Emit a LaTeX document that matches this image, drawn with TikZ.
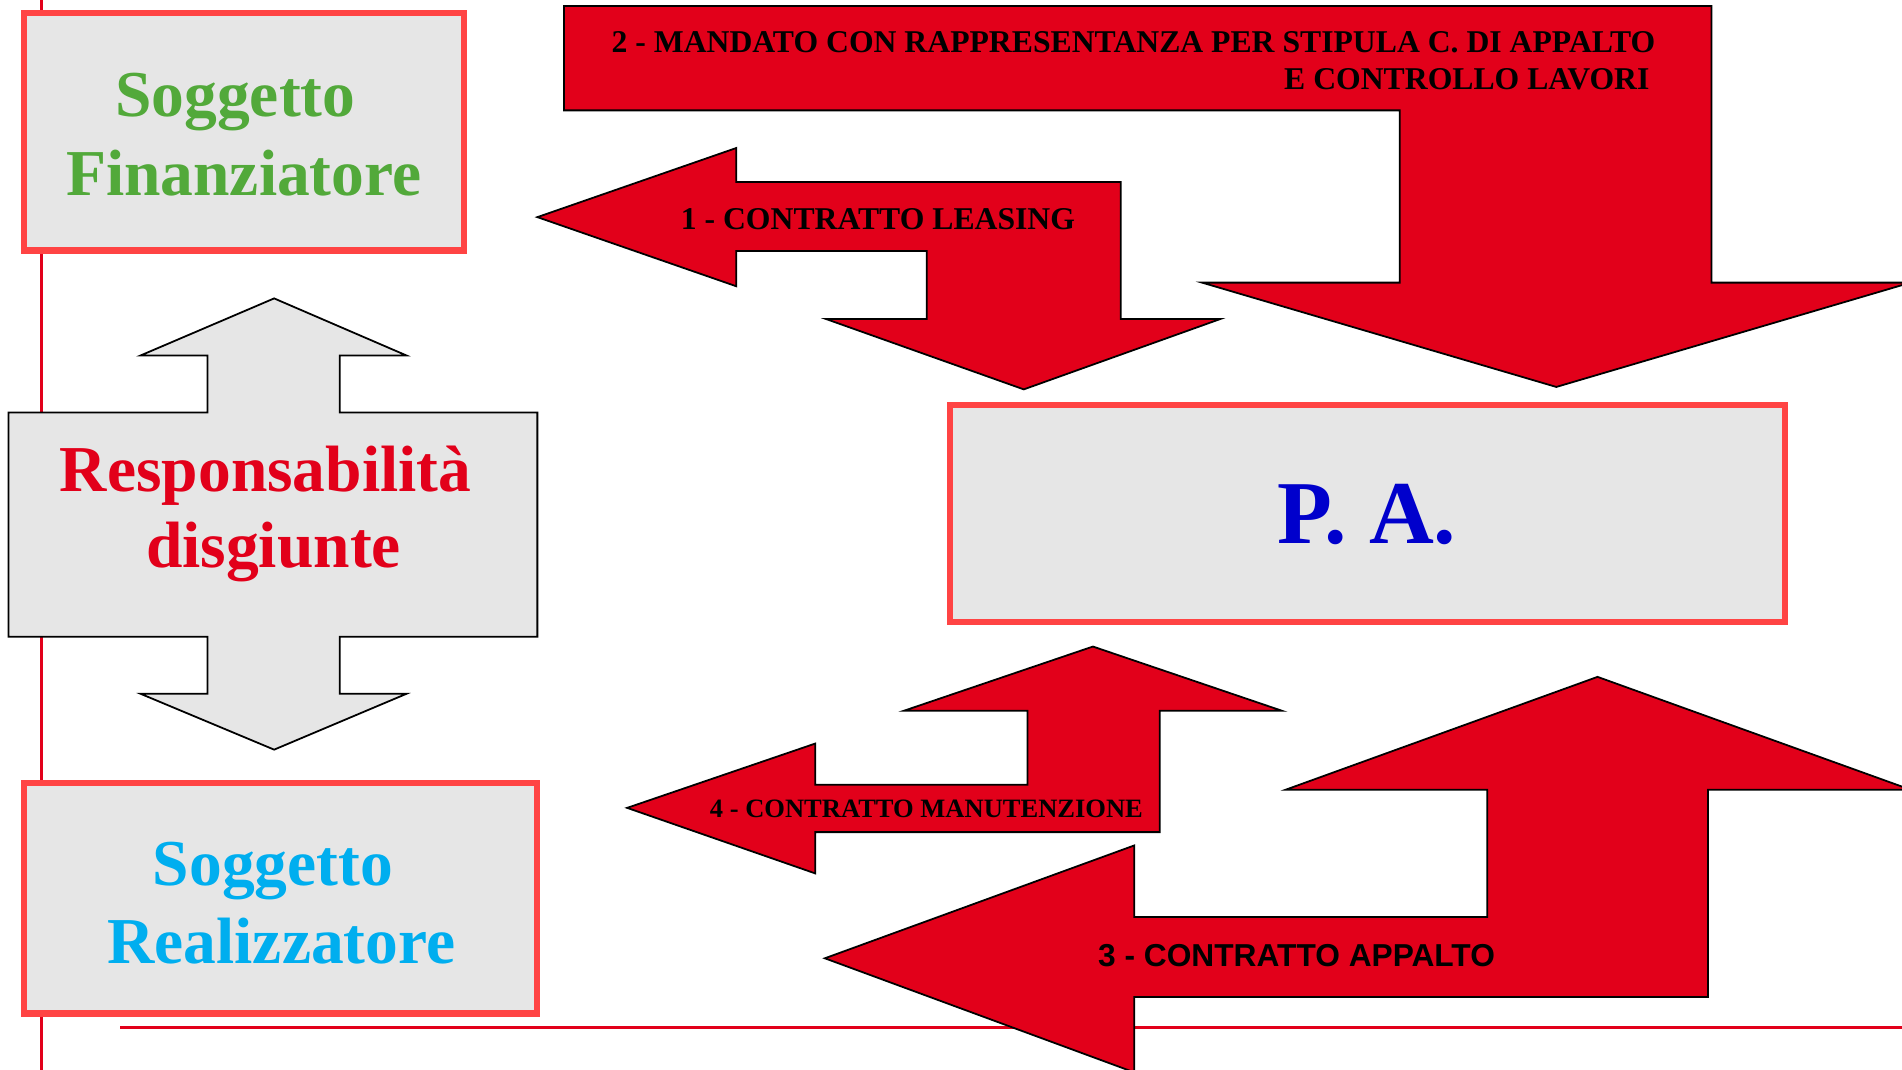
\documentclass[tikz,border=0pt]{standalone}
\usepackage{fontspec}
\setmainfont{Liberation Serif}
\newfontfamily\sansbold{Liberation Sans}
\definecolor{arrowred}{RGB}{226,0,26}
\definecolor{boxborder}{RGB}{255,68,68}
\definecolor{boxfill}{RGB}{230,230,230}
\definecolor{fingreen}{RGB}{82,169,58}
\definecolor{realcyan}{RGB}{0,174,239}
\definecolor{pablue}{RGB}{0,0,204}
\begin{document}
\begin{tikzpicture}[x=0.75pt,y=-0.75pt,
  redarrow/.style={fill=arrowred,draw=black,line width=1.1pt,line join=miter},
  grayarrow/.style={fill=boxfill,draw=black,line width=1.1pt,line join=miter},
  boxrect/.style={fill=boxfill,draw=boxborder,line width=3.75pt},
  guide/.style={draw=arrowred,line width=1.6pt},
  bigtext/.style={inner sep=0pt,font=\bfseries\fontsize{40.5}{48}\selectfont},
  arrowtext/.style={inner sep=0pt,font=\bfseries\fontsize{19.6}{23}\selectfont},
]
\useasboundingbox (0,0) rectangle (1568,882);
\clip (0,0) rectangle (1568,882);

% guide lines
\draw[guide] (34,0) -- (34,882);
\draw[guide] (99,847) -- (1568,847);

% boxes
\draw[boxrect] (19.5,10.5) rectangle (382.5,206.5);
\node[bigtext,text=fingreen,anchor=base] (fin1) at (194,96) {Soggetto};
\node[bigtext,text=fingreen,anchor=base] (fin2) at (201,161) {Finanziatore};

\draw[boxrect] (19.5,645.5) rectangle (442.5,835.5);
\node[bigtext,text=realcyan,anchor=base] (real1) at (225,730) {Soggetto};
\node[bigtext,text=realcyan,anchor=base] (real2) at (232,794) {Realizzatore};

\draw[boxrect] (783.5,333.5) rectangle (1471.5,512.5);
\node[inner sep=0pt,font=\bfseries\fontsize{55.5}{66}\selectfont,text=pablue,anchor=base] (pa) at (1127,448) {P. A.};

% gray double arrow with central box
\draw[grayarrow] (226,246) -- (335,293) -- (280,293) -- (280,340) -- (443,340)
  -- (443,525) -- (280,525) -- (280,572) -- (335,572) -- (226,618)
  -- (116,572) -- (171,572) -- (171,525) -- (7,525) -- (7,340)
  -- (171,340) -- (171,293) -- (116,293) -- cycle;
\node[bigtext,text=arrowred,anchor=base] (resp1) at (219,405) {Responsabilità};
\node[bigtext,text=arrowred,anchor=base] (resp2) at (225.5,468) {disgiunte};

% arrow 2
\draw[redarrow] (465,5) -- (1411,5) -- (1411,233) -- (1575,233) -- (1283,319)
  -- (991,233) -- (1154,233) -- (1154,91) -- (465,91) -- cycle;
\node[arrowtext,anchor=base east] (mand1) at (1365,43) {2 - MANDATO CON RAPPRESENTANZA PER STIPULA C. DI APPALTO};
\node[arrowtext,anchor=base east] (mand2) at (1360,74) {E CONTROLLO LAVORI};

% arrow 1
\draw[redarrow] (443,179) -- (607,122) -- (607,150) -- (924,150) -- (924,263)
  -- (1006,263) -- (844,321) -- (681,263) -- (764,263) -- (764,207)
  -- (607,207) -- (607,236) -- cycle;
\node[arrowtext,anchor=base west] (leas) at (561,189) {1 - CONTRATTO LEASING};

% arrow 4
\draw[redarrow] (517,666) -- (672,613) -- (672,647) -- (847,647) -- (847,586)
  -- (745,586) -- (901,533) -- (1057,586) -- (956,586) -- (956,686)
  -- (672,686) -- (672,720) -- cycle;
\node[arrowtext,anchor=base west,font=\bfseries\fontsize{16.4}{20}\selectfont] (manu) at (585,674) {4 - CONTRATTO MANUTENZIONE};

% arrow 3
\draw[redarrow] (680,790) -- (935,697) -- (935,756) -- (1226,756) -- (1226,651)
  -- (1060,651) -- (1317,558) -- (1575,651) -- (1408,651) -- (1408,822)
  -- (935,822) -- (935,884) -- cycle;
\node[inner sep=0pt,anchor=base west,font=\sansbold\bfseries\fontsize{19.6}{24}\selectfont] (appa) at (905,797) {3 - CONTRATTO APPALTO};
\end{tikzpicture}
\end{document}
